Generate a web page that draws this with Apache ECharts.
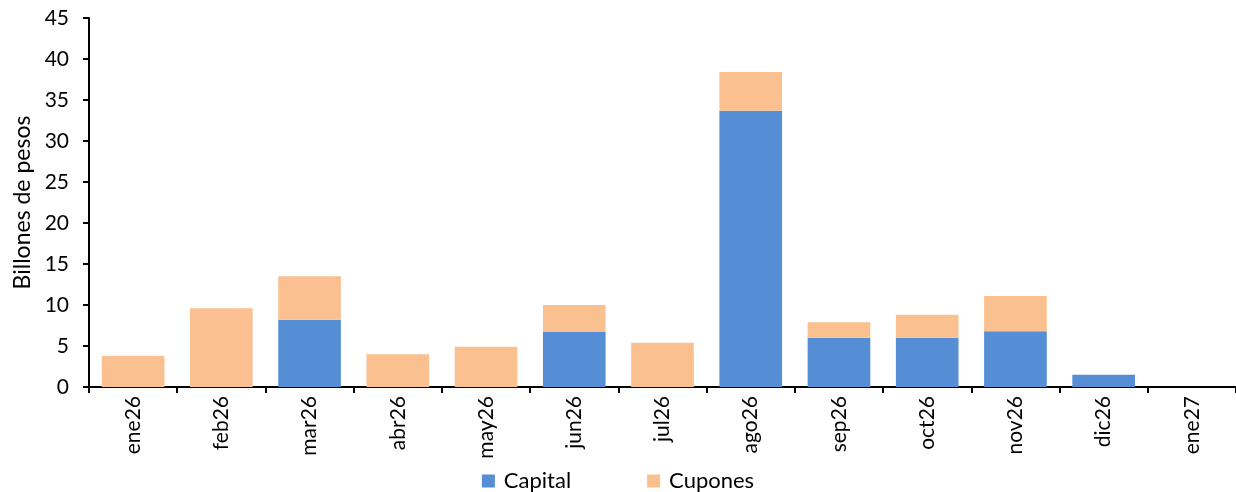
<!DOCTYPE html>
<html><head><meta charset="utf-8">
<script src="https://cdn.jsdelivr.net/npm/echarts@6/dist/echarts.min.js"></script>
<style>html,body{margin:0;padding:0;background:#fff}#c{width:1236px;height:492px}</style>
</head><body><div id="c"></div>
<script>
const categories = ['ene26','feb26','mar26','abr26','may26','jun26','jul26','ago26','sep26','oct26','nov26','dic26','ene27'];
const capital = [0, 0, 8.2, 0, 0, 6.7, 0, 33.7, 6.0, 6.0, 6.8, 1.5, 0];
const cupones = [3.8, 9.6, 5.3, 4.0, 4.9, 3.3, 5.4, 4.7, 1.9, 2.8, 4.3, 0, 0];
const yTicks = {min: 0, max: 45, interval: 5};

const font = 'Lato, "Open Sans", sans-serif';
const chart = echarts.init(document.getElementById('c'), null, {renderer: 'canvas'});
chart.setOption({
  animation: false,
  textStyle: {fontFamily: font},
  grid: {left: 89, right: -6, top: 18, bottom: 105, containLabel: false},
  legend: {
    bottom: -5, left: 'center', itemWidth: 13, itemHeight: 13, itemGap: 76,
    icon: 'rect',
    textStyle: {fontSize: 22, color: '#000', fontFamily: font, padding: [0, 0, 0, 4]},
    data: ['Capital', 'Cupones']
  },
  xAxis: {
    type: 'category', data: categories,
    axisLine: {lineStyle: {color: '#000', width: 2}},
    axisTick: {show: true, length: 6, lineStyle: {color: '#000', width: 2}},
    axisLabel: {rotate: 90, fontSize: 21, color: '#000', margin: 9, interval: 0, fontFamily: font},
    splitLine: {show: false}
  },
  yAxis: {
    type: 'value', min: yTicks.min, max: yTicks.max, interval: yTicks.interval,
    name: 'Billones de pesos', nameLocation: 'middle', nameGap: 55,
    nameTextStyle: {fontSize: 23, color: '#000', fontFamily: font},
    axisLine: {show: true, lineStyle: {color: '#000', width: 2}},
    axisTick: {show: true, length: 6, lineStyle: {color: '#000', width: 2}},
    axisLabel: {fontSize: 21, color: '#000', margin: 20, fontFamily: font},
    splitLine: {show: false}
  },
  series: [
    {name: 'Capital', type: 'bar', stack: 't', data: capital, barWidth: '71%',
     itemStyle: {color: '#558ED5'}},
    {name: 'Cupones', type: 'bar', stack: 't', data: cupones, barWidth: '71%',
     itemStyle: {color: '#FAC090'}}
  ]
});
</script></body></html>
